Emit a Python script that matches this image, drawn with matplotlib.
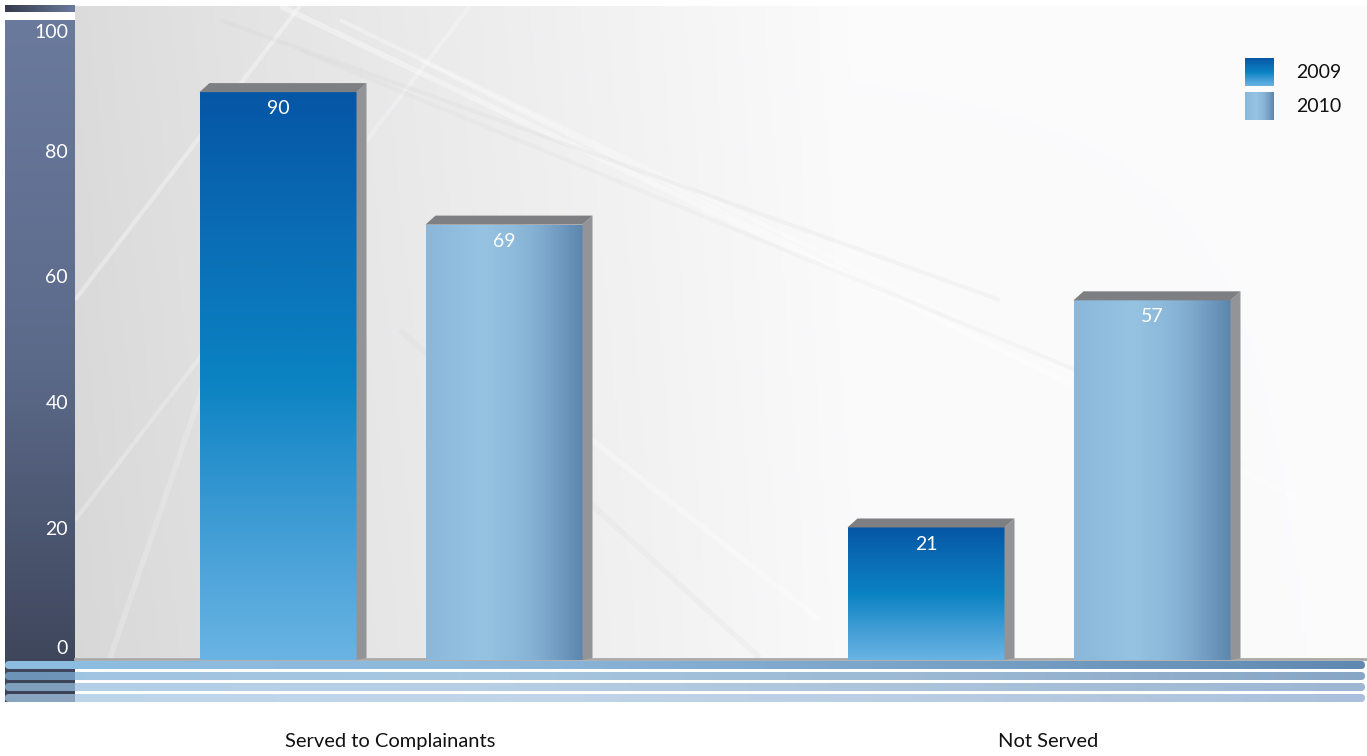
import numpy as np
import matplotlib.pyplot as plt
from matplotlib.patches import Polygon, FancyBboxPatch
from matplotlib.colors import LinearSegmentedColormap
from matplotlib.transforms import ScaledTranslation

categories = ["Served to Complainants", "Not Served"]
years = ["2009", "2010"]
values_2009 = [90, 21]
values_2010 = [69, 57]
yticks = [0, 20, 40, 60, 80, 100]

plt.rcParams['font.family'] = ['Lato', 'DejaVu Sans']

W, H = 1367, 756
fig = plt.figure(figsize=(W / 100, H / 100), dpi=100)
fig.patch.set_facecolor('white')

# backdrop layer, in pixel units
bg = fig.add_axes([0, 0, 1, 1], zorder=0)
bg.set_xlim(0, W)
bg.set_ylim(H, 0)
bg.axis('off')

# soft grey wash fading to white towards the right
gx = np.linspace(0, 1, 400)
gy = np.linspace(0, 1, 200)
GX, GY = np.meshgrid(gx, gy)
shade = 0.86 + 0.125 * np.clip(GX / 0.6, 0, 1) ** 0.9 - 0.015 * GY * (1 - GX)
shade = np.clip(shade, 0, 0.985)
wash = np.dstack([shade, shade, shade + 0.004])
bg.imshow(np.clip(wash, 0, 1), extent=(75, W, 658, 6), aspect='auto', zorder=0)

# faint architectural lines
for x0, y0, x1, y1, c, a, w in [
    (75, 300, 300, 6, 'white', 0.35, 3), (75, 520, 470, 6, 'white', 0.25, 3),
    (110, 658, 250, 250, 'white', 0.2, 4), (280, 6, 1150, 420, 'white', 0.35, 4),
    (340, 20, 1250, 460, 'white', 0.3, 3), (420, 60, 1300, 500, 'white', 0.3, 3),
    (220, 20, 1000, 300, '#cccccc', 0.15, 3), (300, 50, 1100, 380, '#cccccc', 0.12, 3),
    (400, 330, 760, 658, '#d0d0d0', 0.15, 4), (440, 320, 820, 620, 'white', 0.3, 4),
]:
    bg.plot([x0, x1], [y0, y1], color=c, alpha=a, lw=w, zorder=1,
            solid_capstyle='butt')

# dark value-axis panel
panel = np.linspace(0, 1, 256).reshape(-1, 1)
panel_cmap = LinearSegmentedColormap.from_list('panel', ['#6a7a9d', '#5c6a8a', '#3b4256'])
bg.imshow(panel, extent=(5, 75, 702, 20), cmap=panel_cmap, aspect='auto', zorder=2)
top_strip = np.linspace(0, 1, 256).reshape(1, -1)
strip_cmap = LinearSegmentedColormap.from_list('strip', ['#353b4c', '#6a7a9d'])
bg.imshow(top_strip, extent=(5, 75, 12, 5), cmap=strip_cmap, aspect='auto', zorder=2)

# baseline
bg.plot([75, W], [659, 659], color='#a8a8a8', lw=2, zorder=3)

# chart axes
ax = fig.add_axes([75 / W, (H - 702) / H, (W - 75) / W, 702 / H], zorder=2)
ax.patch.set_alpha(0)
px_y = 6.31
px_x = 648
for s in ax.spines.values():
    s.set_visible(False)

x = np.arange(len(categories))
width = 157 / px_x
offset = 113 / px_x
dx, dy = 10 / px_x, 9 / px_y

blue_v = LinearSegmentedColormap.from_list(
    'b09', ['#0656a6', '#0a6db5', '#0a82c2', '#3d9bd4', '#6ab4e3'])
blue_h = LinearSegmentedColormap.from_list(
    'b10', ['#8bb8da', '#96c3e2', '#7ea9cd', '#5d86ad'])
vert = np.linspace(0, 1, 256).reshape(-1, 1)
horiz = np.array([0, 0.1, 0.2, 0.3, 0.38, 0.45, 0.55, 0.7, 0.85, 1.0])
horiz = np.interp(np.linspace(0, 1, 256), np.linspace(0, 1, 10), horiz).reshape(1, -1)

for vals, pos, cmap, img in [(values_2009, x - offset, blue_v, vert),
                             (values_2010, x + offset, blue_h, horiz)]:
    bars = ax.bar(pos, vals, width=width, color='none', edgecolor='none', zorder=3)
    for b, v in zip(bars, vals):
        x0, x1 = b.get_x(), b.get_x() + b.get_width()
        im = ax.imshow(img, extent=(x0, x1, 0, v), cmap=cmap, aspect='auto',
                       origin='upper', zorder=3)
        im.set_clip_path(b)
        ax.add_patch(Polygon([(x1, 0), (x1 + dx, dy * 0.2), (x1 + dx, v + dy), (x1, v)],
                             closed=True, facecolor='#939497', edgecolor='none', zorder=3))
        ax.add_patch(Polygon([(x0, v), (x0 + dx, v + dy), (x1 + dx, v + dy), (x1, v)],
                             closed=True, facecolor='#7e7f82', edgecolor='none', zorder=3))
        ax.annotate(f"{v}", (b.get_x() + width / 2, v), xytext=(0, -12),
                    textcoords='offset points', ha='center', va='center',
                    color='white', fontsize=14, zorder=4)

ax.set_xlim(-(391 - 75) / px_x, (W - 391) / px_x)
ax.set_ylim(-(702 - 660) / px_y, 660 / px_y)

ax.set_yticks(yticks)
ax.set_yticklabels([str(t) for t in yticks], color='white', fontsize=14)
ax.tick_params(axis='y', length=0, pad=5)
# tick labels sit a little above their gridline values
label_nudge = [13, 6, 6, 5, 4, -2]
for lbl, n in zip(ax.get_yticklabels(), label_nudge):
    lbl.set_transform(lbl.get_transform() + ScaledTranslation(0, n / 100, fig.dpi_scale_trans))

ax.set_xticks(x + np.array([-0.002, 0.014]))
ax.set_xticklabels(categories, fontsize=14.5, color='#111111')
ax.tick_params(axis='x', length=0, pad=22)

# overlay: floor stripes and legend, in pixel units
top = fig.add_axes([0, 0, 1, 1], zorder=5)
top.axis('off')

stripes = [
    (665, ['#8cbde0', '#8eb9db', '#7aa3c8', '#5f89b0'], 1.0),
    (676, ['#7eb0d8', '#8ab4d6', '#7ca2c6', '#5f87b2'], 0.75),
    (687, ['#97bfe0', '#9fc0de', '#8fb0d0', '#7c9ec4'], 0.75),
    (698, ['#a4c6e4', '#aec8e2', '#a3bdd9', '#8eaad0'], 0.75),
]
for yc, cols, a in stripes:
    patch = FancyBboxPatch((5, yc - 4), 1360, 8, boxstyle='round,pad=0,rounding_size=4',
                           facecolor='none', edgecolor='none')
    top.add_patch(patch)
    sc = LinearSegmentedColormap.from_list('s', cols)
    im = top.imshow(np.linspace(0, 1, 256).reshape(1, -1), extent=(5, 1365, yc + 4, yc - 4),
                    cmap=sc, aspect='auto', alpha=a)
    im.set_clip_path(patch)

# legend
for yy, cmap, img, label in [(58, blue_v, vert, years[0]), (92, blue_h, horiz, years[1])]:
    top.imshow(img, extent=(1245, 1274, yy + 28, yy), cmap=cmap, aspect='auto')
    top.text(1296, yy + 14, label, fontsize=14, va='center', ha='left', color='#111111')

top.set_xlim(0, W)
top.set_ylim(H, 0)

fig.savefig("out.png", dpi=100)
